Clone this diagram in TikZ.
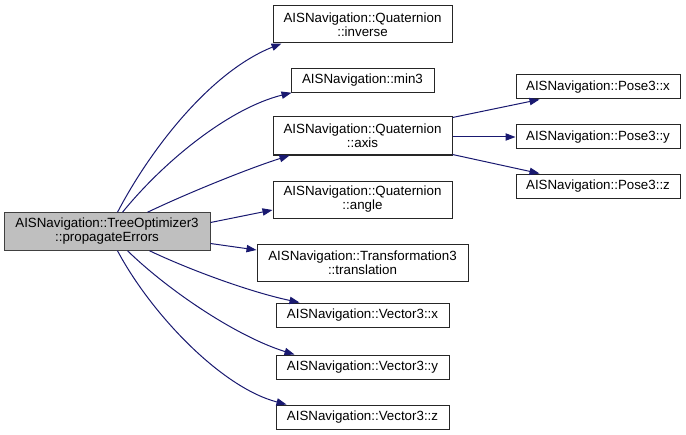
\documentclass[tikz,border=0pt]{standalone}
\usepackage{fontspec}
\setmainfont{Liberation Sans}
\usetikzlibrary{arrows.meta,calc}
\definecolor{edgeblue}{HTML}{191970}
\definecolor{mainfill}{HTML}{BFBFBF}
\begin{document}
\begin{tikzpicture}[x=0.75pt,y=-0.75pt,
  box/.style={draw=black!85, line width=0.75pt, fill=white, inner sep=0pt, align=center,
    font=\fontsize{10pt}{10.5pt}\selectfont},
  edge/.style={draw=edgeblue, line width=0.75pt, -{Triangle[length=7.5pt,width=5.5pt]}}]
\useasboundingbox (0,0) rectangle (686,435);
\node[box, fill=mainfill, draw=black!75, minimum width=206*0.75pt, minimum height=37.5*0.75pt] (main) at (107,231.5) {AISNavigation::TreeOptimizer3\\::propagateErrors};
\node[box, minimum width=179*0.75pt, minimum height=37*0.75pt] (inv) at (362.5,24.5) {AISNavigation::Quaternion\\::inverse};
\node[box, minimum width=143*0.75pt, minimum height=23.5*0.75pt] (min3) at (362.5,80.5) {AISNavigation::min3};
\node[box, minimum width=179*0.75pt, minimum height=38*0.75pt] (axis) at (362.5,136) {AISNavigation::Quaternion\\::axis};
\node[box, minimum width=179*0.75pt, minimum height=37*0.75pt] (angle) at (362.5,199.5) {AISNavigation::Quaternion\\::angle};
\node[box, minimum width=211*0.75pt, minimum height=37*0.75pt] (trans) at (362.5,262.5) {AISNavigation::Transformation3\\::translation};
\node[box, minimum width=173*0.75pt, minimum height=24*0.75pt] (vx) at (362.5,315) {AISNavigation::Vector3::x};
\node[box, minimum width=173*0.75pt, minimum height=24*0.75pt] (vy) at (362.5,367) {AISNavigation::Vector3::y};
\node[box, minimum width=173*0.75pt, minimum height=24*0.75pt] (vz) at (362.5,417) {AISNavigation::Vector3::z};
\node[box, minimum width=164*0.75pt, minimum height=24*0.75pt] (px) at (598,87) {AISNavigation::Pose3::x};
\node[box, minimum width=164*0.75pt, minimum height=24*0.75pt] (py) at (598,137) {AISNavigation::Pose3::y};
\node[box, minimum width=164*0.75pt, minimum height=24*0.75pt] (pz) at (598,186) {AISNavigation::Pose3::z};
% edges from main
\draw[edge] ($(main.north west)+(114,0)$) .. controls (150,150) and (210,72) .. ($(inv.south west)+(9,0)$);
\draw[edge] ($(main.north west)+(119,0)$) .. controls (165,160) and (230,108) .. ($(min3.south west)+(1,0)$);
\draw[edge] ($(main.north west)+(144,0)$) .. controls (190,192) and (250,168) .. ($(axis.south west)+(17,0)$);
\draw[edge] ($(main.east)+(0,-9)$) -- ($(angle.west)+(0,10.5)$);
\draw[edge] ($(main.east)+(0,12)$) -- ($(trans.west)+(0,-12.5)$);
\draw[edge] ($(main.south west)+(146,0)$) .. controls (190,270) and (250,292) .. ($(vx.north west)+(24,0)$);
\draw[edge] ($(main.south west)+(124,0)$) .. controls (170,292) and (238,337) .. ($(vy.north west)+(19,0)$);
\draw[edge] ($(main.south west)+(114,0)$) .. controls (150,312) and (220,387) .. ($(vz.north west)+(11,0)$);
% edges from axis
\draw[edge] ($(axis.north east)+(0,1)$) -- ($(px.south west)+(24,0)$);
\draw[edge] (axis.east |- py.west) -- (py.west);
\draw[edge] ($(axis.south east)+(0,-1)$) -- ($(pz.north west)+(24,0)$);
\end{tikzpicture}
\end{document}
